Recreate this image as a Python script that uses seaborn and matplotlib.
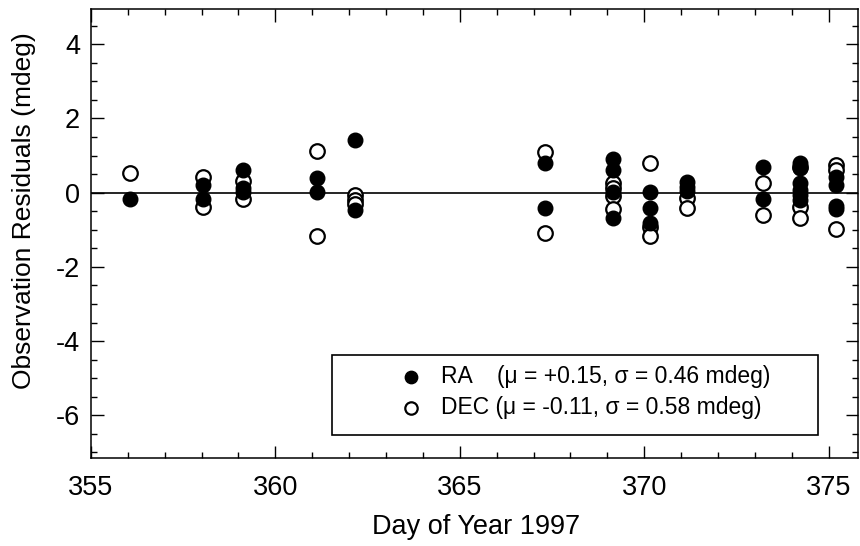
import matplotlib
matplotlib.use("Agg")
import matplotlib.pyplot as plt
from matplotlib.ticker import MultipleLocator
from matplotlib.patches import Rectangle
import seaborn as sns
import pandas as pd

# ---- data ----
ra_day = [356.05,
          358.05, 358.05,
          359.12, 359.12, 359.12,
          361.14, 361.14,
          362.15, 362.15,
          367.30, 367.30,
          369.15, 369.15, 369.15, 369.15,
          370.17, 370.17, 370.17,
          371.17, 371.17, 371.17,
          373.23, 373.23,
          374.22, 374.22, 374.22, 374.22, 374.22, 374.22,
          375.19, 375.19, 375.19, 375.19]
ra_val = [-0.18,
          0.21, -0.18,
          0.61, 0.12, 0.03,
          0.40, 0.01,
          1.42, -0.48,
          0.81, -0.40,
          0.92, 0.61, 0.03, -0.69,
          0.01, -0.40, -0.82,
          0.30, 0.16, 0.05,
          0.70, -0.18,
          0.81, 0.66, 0.25, 0.07, -0.06, -0.20,
          0.43, 0.21, -0.36, -0.45]

dec_day = [356.05,
           358.05, 358.05,
           359.12, 359.12,
           361.14, 361.14,
           362.15, 362.15, 362.15,
           367.30, 367.30,
           369.15, 369.15, 369.15, 369.15,
           370.17, 370.17, 370.17,
           371.17, 371.17,
           373.23, 373.23,
           374.22, 374.22, 374.22,
           375.19, 375.19, 375.19]
dec_val = [0.52,
           0.41, -0.38,
           0.31, -0.18,
           1.12, -1.16,
           -0.06, -0.20, -0.30,
           1.10, -1.08,
           0.25, 0.12, -0.10, -0.45,
           0.79, -0.92, -1.18,
           -0.15, -0.42,
           0.25, -0.60,
           0.70, -0.39, -0.69,
           0.74, 0.61, -0.98]

ra_label = "RA    (\u03bc = +0.15, \u03c3 = 0.46 mdeg)"
dec_label = "DEC (\u03bc = -0.11, \u03c3 = 0.58 mdeg)"
x_ticks = [355, 360, 365, 370, 375]
y_ticks = [-6, -4, -2, 0, 2, 4]

# ---- style ----
sns.set_theme(style="white")
plt.rcParams["font.family"] = ["Liberation Sans", "DejaVu Sans"]
plt.rcParams["axes.unicode_minus"] = False
plt.rcParams["text.color"] = "black"
plt.rcParams["axes.labelcolor"] = "black"
plt.rcParams["xtick.color"] = "black"
plt.rcParams["ytick.color"] = "black"

fig = plt.figure(figsize=(8.6, 5.46), dpi=100)
ax = fig.add_axes([0.1058, 0.1612, 0.8919, 0.8223])

ra_df = pd.DataFrame({"day": ra_day, "res": ra_val})
dec_df = pd.DataFrame({"day": dec_day, "res": dec_val})

ax.axhline(0, color="black", lw=1.2, zorder=1)

sns.scatterplot(data=dec_df, x="day", y="res", ax=ax, s=110, marker="o",
                facecolor="white", edgecolor="black", linewidth=1.6,
                label=dec_label, zorder=3)
sns.scatterplot(data=ra_df, x="day", y="res", ax=ax, s=110, marker="o",
                color="black", edgecolor="black", linewidth=1.0,
                label=ra_label, zorder=4)

ax.set_xlim(355, 375.8)
ax.set_ylim(-7.15, 4.95)
ax.set_xticks(x_ticks)
ax.set_yticks(y_ticks)
ax.xaxis.set_minor_locator(MultipleLocator(1))
ax.yaxis.set_minor_locator(MultipleLocator(0.5))
ax.tick_params(which="both", direction="in", top=True, right=True,
               bottom=True, left=True, color="black", width=1.0)
ax.tick_params(which="major", length=9)
ax.tick_params(which="minor", length=4.5)
ax.tick_params(axis="x", which="major", labelsize=19.5, pad=12)
ax.tick_params(axis="y", which="major", labelsize=19.5, pad=8)

for sp in ax.spines.values():
    sp.set_color("black")
    sp.set_linewidth(1.1)

ax.set_xlabel("Day of Year 1997", fontsize=19.5)
ax.set_ylabel("Observation Residuals (mdeg)", fontsize=19)
ax.xaxis.set_label_coords(0.502, -0.125)
ax.yaxis.set_label_coords(-0.072, 0.55)

# legend frame drawn as a rectangle in axes coordinates
ax.add_patch(Rectangle((0.314, 0.051), 0.634, 0.178, transform=ax.transAxes,
                       facecolor="white", edgecolor="black", lw=1.2, zorder=5))

handles, labels = ax.get_legend_handles_labels()
order = [labels.index(ra_label), labels.index(dec_label)]
leg = ax.legend([handles[i] for i in order], [labels[i] for i in order],
                loc="upper left", bbox_to_anchor=(0.396, 0.208),
                fontsize=16.5, frameon=False, borderpad=0,
                handlelength=1.4, handletextpad=0.6,
                labelspacing=0.35, markerscale=0.85, borderaxespad=0)
leg.set_zorder(6)

fig.savefig("out.png", dpi=100)
